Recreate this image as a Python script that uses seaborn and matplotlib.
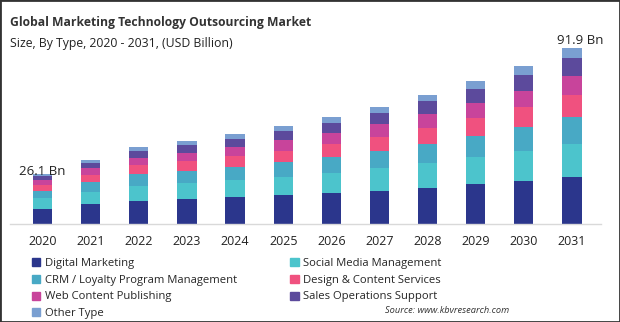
import matplotlib
matplotlib.use("Agg")
import matplotlib.pyplot as plt
import seaborn as sns
import pandas as pd
import numpy as np
from matplotlib.patches import Rectangle

years = ["2020", "2021", "2022", "2023", "2024", "2025", "2026", "2027", "2028", "2029", "2030", "2031"]
series_names = ["Digital Marketing", "Social Media Management", "CRM / Loyalty Program Management",
                "Design & Content Services", "Web Content Publishing", "Sales Operations Support", "Other Type"]
digital_marketing = [8.1, 10.4, 12.0, 13.1, 14.1, 15.1, 16.2, 17.2, 18.8, 20.9, 22.6, 24.7]
social_media = [5.4, 6.3, 7.8, 8.4, 8.9, 9.4, 10.4, 12.0, 13.2, 14.3, 15.7, 17.1]
crm_loyalty = [3.8, 5.2, 6.3, 6.3, 6.8, 7.8, 8.4, 8.9, 9.8, 10.8, 12.5, 13.9]
design_content = [3.2, 3.5, 4.7, 5.2, 5.7, 5.7, 6.8, 7.3, 8.4, 9.4, 10.4, 11.5]
web_content = [2.7, 3.8, 3.7, 4.2, 4.7, 5.7, 5.7, 6.8, 7.3, 8.0, 8.4, 10.1]
sales_ops = [2.1, 2.6, 3.7, 4.2, 4.2, 4.7, 5.2, 5.7, 6.6, 7.3, 8.4, 9.4]
other_type = [0.8, 1.6, 2.1, 2.1, 2.6, 2.6, 3.1, 3.1, 3.3, 4.0, 4.7, 5.2]
label_years = ["2020", "2031"]
label_texts = ["26.1 Bn", "91.9 Bn"]

colors = ["#2b368c", "#4cc4cc", "#48a9c5", "#f0517f", "#c8449b", "#5c4a9c", "#7a9fd1"]
series = [digital_marketing, social_media, crm_loyalty, design_content, web_content, sales_ops, other_type]

cum = np.cumsum(np.array(series), axis=0)
frames = []
for name, vals in zip(series_names, cum):
    frames.append(pd.DataFrame({"year": years, "cum": vals, "type": name}))
df = pd.concat(frames, ignore_index=True)

sns.set_theme(style="white")
plt.rcParams['font.family'] = ['Open Sans', 'DejaVu Sans']

fig = plt.figure(figsize=(6.2, 3.22), dpi=100)
ax = fig.add_axes([0.016, 0.304, 0.953, 0.595])

for name, col in reversed(list(zip(series_names, colors))):
    sub = df[df["type"] == name]
    sns.barplot(data=sub, x="year", y="cum", order=years, color=col, width=0.4,
                saturation=1, ax=ax, label=name, linewidth=0)

ax.set_xlim(-0.68, 11.6)
ax.set_ylim(0, 100)
ax.set_yticks([])
ax.set_xlabel("")
ax.set_ylabel("")
for s in ["top", "right", "left"]:
    ax.spines[s].set_visible(False)
ax.spines["bottom"].set_color("#d9d9d9")
ax.spines["bottom"].set_linewidth(1)
ax.tick_params(axis="x", length=0, labelsize=9, pad=8, colors="#222222")

totals = cum[-1]
label_dx = [0, 6]
label_dy = [-0.8, 3.0]
for ly, lt, dx, dy in zip(label_years, label_texts, label_dx, label_dy):
    i = years.index(ly)
    ax.annotate(lt, (i, totals[i]), xytext=(dx, dy), textcoords="offset points",
                ha="center", va="baseline", fontsize=9.5, color="#222222")

if ax.get_legend():
    ax.get_legend().remove()
# row-major order as in the reference: column 1 then column 2
leg_order = [0, 2, 4, 6, 1, 3, 5]
handles = [Rectangle((0, 0), 1, 1, color=colors[k]) for k in leg_order]
labels = [series_names[k] for k in leg_order]
fig.legend(handles, labels, loc="upper left", bbox_to_anchor=(0.052, 0.198), ncol=2,
           frameon=False, fontsize=8.1, handlelength=0.72, handleheight=0.72, handletextpad=0.4,
           columnspacing=4.75, labelspacing=0.5, borderpad=0, borderaxespad=0)

fig.text(0.016, 0.93, "Global Marketing Technology Outsourcing Market", fontsize=8.7,
         fontweight="bold", color="#333333", va="center")
fig.text(0.016, 0.866, "Size, By Type, 2020 - 2031, (USD Billion)", fontsize=8.8,
         color="#222222", va="center")
fig.text(0.822, 0.036, "Source: www.kbvresearch.com", fontsize=6.7, style="italic",
         color="#333333", ha="right", va="center")

fig.patches.append(Rectangle((0, 0), 1, 1, transform=fig.transFigure, fill=False,
                             edgecolor="#333333", linewidth=2))

fig.savefig("out.png", dpi=100)
